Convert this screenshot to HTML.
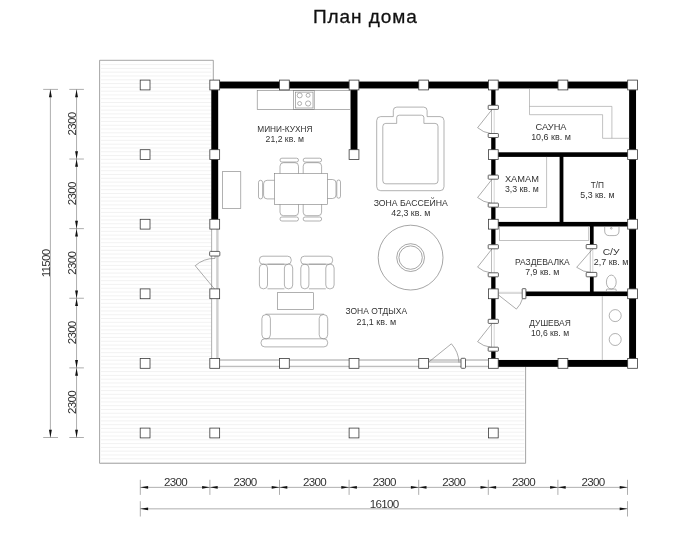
<!DOCTYPE html>
<html lang="ru"><head><meta charset="utf-8"><title>План дома</title>
<style>
html,body{margin:0;padding:0;background:#fff;}
body{width:699px;height:546px;overflow:hidden;position:relative;font-family:"Liberation Sans",sans-serif;}
h1{position:absolute;left:0;top:0;margin:0;width:699px;text-align:center;font-weight:400;font-size:19px;line-height:19px;letter-spacing:0.93px;color:#111;-webkit-text-stroke:0.3px #111;}
h1 span{position:absolute;left:313.4px;top:6.9px;white-space:nowrap;will-change:transform;}
svg{position:absolute;left:0;top:0;will-change:transform;}
svg text{font-family:"Liberation Sans",sans-serif;}
.w{fill:#000;}
.post{fill:#fff;stroke:#3a3a3a;stroke-width:0.8;}
.jamb{fill:#fff;stroke:#3a3a3a;stroke-width:0.8;}
.f{fill:none;stroke:#7d7d7d;stroke-width:0.6;}
.fl{fill:none;stroke:#999;stroke-width:0.6;}
.f2{fill:none;stroke:#6a6a6a;stroke-width:0.6;}
.d{fill:none;stroke:#666;stroke-width:0.55;}
.dl{stroke:#aaa;stroke-width:0.5;}
.dl2{stroke:#777;stroke-width:0.5;}
.gl{stroke:#777;stroke-width:0.6;}
.glb{fill:#cfcfcf;stroke:#b5b5b5;stroke-width:0.3;}
.terr{fill:none;stroke:#808080;stroke-width:0.7;}
.h{stroke:#f1f1f1;stroke-width:0.9;}
.dm{stroke:#777;stroke-width:0.6;}
.ar{fill:#111;}
.dt{font-size:11.6px;fill:#333;text-anchor:middle;letter-spacing:-0.7px;}
.lb{font-size:8.4px;fill:#333;text-anchor:middle;}
</style></head>
<body>
<h1><span>План дома</span></h1>
<svg width="699" height="546" viewBox="0 0 699 546">
<clipPath id="tc"><path d="M99.6,60.3 H213.3 V366.70 H525.6 V463.3 H99.6 Z"/></clipPath>
<g clip-path="url(#tc)" class="hatch">
<line x1="101.00" y1="64.60" x2="211.30" y2="64.60" class="h"/>
<line x1="101.00" y1="68.39" x2="211.30" y2="68.39" class="h"/>
<line x1="101.00" y1="72.18" x2="211.30" y2="72.18" class="h"/>
<line x1="101.00" y1="75.97" x2="211.30" y2="75.97" class="h"/>
<line x1="101.00" y1="79.76" x2="211.30" y2="79.76" class="h"/>
<line x1="101.00" y1="83.55" x2="211.30" y2="83.55" class="h"/>
<line x1="101.00" y1="87.34" x2="211.30" y2="87.34" class="h"/>
<line x1="101.00" y1="91.13" x2="211.30" y2="91.13" class="h"/>
<line x1="101.00" y1="94.92" x2="211.30" y2="94.92" class="h"/>
<line x1="101.00" y1="98.71" x2="211.30" y2="98.71" class="h"/>
<line x1="101.00" y1="102.50" x2="211.30" y2="102.50" class="h"/>
<line x1="101.00" y1="106.29" x2="211.30" y2="106.29" class="h"/>
<line x1="101.00" y1="110.08" x2="211.30" y2="110.08" class="h"/>
<line x1="101.00" y1="113.87" x2="211.30" y2="113.87" class="h"/>
<line x1="101.00" y1="117.66" x2="211.30" y2="117.66" class="h"/>
<line x1="101.00" y1="121.45" x2="211.30" y2="121.45" class="h"/>
<line x1="101.00" y1="125.24" x2="211.30" y2="125.24" class="h"/>
<line x1="101.00" y1="129.03" x2="211.30" y2="129.03" class="h"/>
<line x1="101.00" y1="132.82" x2="211.30" y2="132.82" class="h"/>
<line x1="101.00" y1="136.61" x2="211.30" y2="136.61" class="h"/>
<line x1="101.00" y1="140.40" x2="211.30" y2="140.40" class="h"/>
<line x1="101.00" y1="144.19" x2="211.30" y2="144.19" class="h"/>
<line x1="101.00" y1="147.98" x2="211.30" y2="147.98" class="h"/>
<line x1="101.00" y1="151.77" x2="211.30" y2="151.77" class="h"/>
<line x1="101.00" y1="155.56" x2="211.30" y2="155.56" class="h"/>
<line x1="101.00" y1="159.35" x2="211.30" y2="159.35" class="h"/>
<line x1="101.00" y1="163.14" x2="211.30" y2="163.14" class="h"/>
<line x1="101.00" y1="166.93" x2="211.30" y2="166.93" class="h"/>
<line x1="101.00" y1="170.72" x2="211.30" y2="170.72" class="h"/>
<line x1="101.00" y1="174.51" x2="211.30" y2="174.51" class="h"/>
<line x1="101.00" y1="178.30" x2="211.30" y2="178.30" class="h"/>
<line x1="101.00" y1="182.09" x2="211.30" y2="182.09" class="h"/>
<line x1="101.00" y1="185.88" x2="211.30" y2="185.88" class="h"/>
<line x1="101.00" y1="189.67" x2="211.30" y2="189.67" class="h"/>
<line x1="101.00" y1="193.46" x2="211.30" y2="193.46" class="h"/>
<line x1="101.00" y1="197.25" x2="211.30" y2="197.25" class="h"/>
<line x1="101.00" y1="201.04" x2="211.30" y2="201.04" class="h"/>
<line x1="101.00" y1="204.83" x2="211.30" y2="204.83" class="h"/>
<line x1="101.00" y1="208.62" x2="211.30" y2="208.62" class="h"/>
<line x1="101.00" y1="212.41" x2="211.30" y2="212.41" class="h"/>
<line x1="101.00" y1="216.20" x2="211.30" y2="216.20" class="h"/>
<line x1="101.00" y1="219.99" x2="211.30" y2="219.99" class="h"/>
<line x1="101.00" y1="223.78" x2="211.30" y2="223.78" class="h"/>
<line x1="101.00" y1="227.57" x2="211.30" y2="227.57" class="h"/>
<line x1="101.00" y1="231.36" x2="211.30" y2="231.36" class="h"/>
<line x1="101.00" y1="235.15" x2="211.30" y2="235.15" class="h"/>
<line x1="101.00" y1="238.94" x2="211.30" y2="238.94" class="h"/>
<line x1="101.00" y1="242.73" x2="211.30" y2="242.73" class="h"/>
<line x1="101.00" y1="246.52" x2="211.30" y2="246.52" class="h"/>
<line x1="101.00" y1="250.31" x2="211.30" y2="250.31" class="h"/>
<line x1="101.00" y1="254.10" x2="211.30" y2="254.10" class="h"/>
<line x1="101.00" y1="257.89" x2="211.30" y2="257.89" class="h"/>
<line x1="101.00" y1="261.68" x2="211.30" y2="261.68" class="h"/>
<line x1="101.00" y1="265.47" x2="211.30" y2="265.47" class="h"/>
<line x1="101.00" y1="269.26" x2="211.30" y2="269.26" class="h"/>
<line x1="101.00" y1="273.05" x2="211.30" y2="273.05" class="h"/>
<line x1="101.00" y1="276.84" x2="211.30" y2="276.84" class="h"/>
<line x1="101.00" y1="280.63" x2="211.30" y2="280.63" class="h"/>
<line x1="101.00" y1="284.42" x2="211.30" y2="284.42" class="h"/>
<line x1="101.00" y1="288.21" x2="211.30" y2="288.21" class="h"/>
<line x1="101.00" y1="292.00" x2="211.30" y2="292.00" class="h"/>
<line x1="101.00" y1="295.79" x2="211.30" y2="295.79" class="h"/>
<line x1="101.00" y1="299.58" x2="211.30" y2="299.58" class="h"/>
<line x1="101.00" y1="303.37" x2="211.30" y2="303.37" class="h"/>
<line x1="101.00" y1="307.16" x2="211.30" y2="307.16" class="h"/>
<line x1="101.00" y1="310.95" x2="211.30" y2="310.95" class="h"/>
<line x1="101.00" y1="314.74" x2="211.30" y2="314.74" class="h"/>
<line x1="101.00" y1="318.53" x2="211.30" y2="318.53" class="h"/>
<line x1="101.00" y1="322.32" x2="211.30" y2="322.32" class="h"/>
<line x1="101.00" y1="326.11" x2="211.30" y2="326.11" class="h"/>
<line x1="101.00" y1="329.90" x2="211.30" y2="329.90" class="h"/>
<line x1="101.00" y1="333.69" x2="211.30" y2="333.69" class="h"/>
<line x1="101.00" y1="337.48" x2="211.30" y2="337.48" class="h"/>
<line x1="101.00" y1="341.27" x2="211.30" y2="341.27" class="h"/>
<line x1="101.00" y1="345.06" x2="211.30" y2="345.06" class="h"/>
<line x1="101.00" y1="348.85" x2="211.30" y2="348.85" class="h"/>
<line x1="101.00" y1="352.64" x2="211.30" y2="352.64" class="h"/>
<line x1="101.00" y1="356.43" x2="211.30" y2="356.43" class="h"/>
<line x1="101.00" y1="360.22" x2="211.30" y2="360.22" class="h"/>
<line x1="101.00" y1="364.01" x2="211.30" y2="364.01" class="h"/>
<line x1="101.00" y1="367.80" x2="524.40" y2="367.80" class="h"/>
<line x1="101.00" y1="371.59" x2="524.40" y2="371.59" class="h"/>
<line x1="101.00" y1="375.38" x2="524.40" y2="375.38" class="h"/>
<line x1="101.00" y1="379.17" x2="524.40" y2="379.17" class="h"/>
<line x1="101.00" y1="382.96" x2="524.40" y2="382.96" class="h"/>
<line x1="101.00" y1="386.75" x2="524.40" y2="386.75" class="h"/>
<line x1="101.00" y1="390.54" x2="524.40" y2="390.54" class="h"/>
<line x1="101.00" y1="394.33" x2="524.40" y2="394.33" class="h"/>
<line x1="101.00" y1="398.12" x2="524.40" y2="398.12" class="h"/>
<line x1="101.00" y1="401.91" x2="524.40" y2="401.91" class="h"/>
<line x1="101.00" y1="405.70" x2="524.40" y2="405.70" class="h"/>
<line x1="101.00" y1="409.49" x2="524.40" y2="409.49" class="h"/>
<line x1="101.00" y1="413.28" x2="524.40" y2="413.28" class="h"/>
<line x1="101.00" y1="417.07" x2="524.40" y2="417.07" class="h"/>
<line x1="101.00" y1="420.86" x2="524.40" y2="420.86" class="h"/>
<line x1="101.00" y1="424.65" x2="524.40" y2="424.65" class="h"/>
<line x1="101.00" y1="428.44" x2="524.40" y2="428.44" class="h"/>
<line x1="101.00" y1="432.23" x2="524.40" y2="432.23" class="h"/>
<line x1="101.00" y1="436.02" x2="524.40" y2="436.02" class="h"/>
<line x1="101.00" y1="439.81" x2="524.40" y2="439.81" class="h"/>
<line x1="101.00" y1="443.60" x2="524.40" y2="443.60" class="h"/>
<line x1="101.00" y1="447.39" x2="524.40" y2="447.39" class="h"/>
<line x1="101.00" y1="451.18" x2="524.40" y2="451.18" class="h"/>
<line x1="101.00" y1="454.97" x2="524.40" y2="454.97" class="h"/>
<line x1="101.00" y1="458.76" x2="524.40" y2="458.76" class="h"/>
<line x1="101.00" y1="462.55" x2="524.40" y2="462.55" class="h"/>
</g>
<path d="M213.3,80 V60.3 H99.6 V463.3 H525.6 V366.70" class="terr"/>
<line x1="211.64" y1="224.20" x2="211.64" y2="363.40" class="gl"/>
<rect x="216.44" y="224.20" width="1.80" height="139.20" class="glb"/>
<rect x="214.74" y="359.30" width="278.56" height="1.50" class="glb"/>
<line x1="214.74" y1="366.30" x2="493.30" y2="366.30" class="gl"/>
<rect x="214.74" y="81.55" width="417.84" height="6.90" class="w"/>
<rect x="211.29" y="85.00" width="6.90" height="139.20" class="w"/>
<rect x="629.13" y="85.00" width="6.90" height="278.40" class="w"/>
<rect x="493.30" y="359.95" width="139.28" height="6.90" class="w"/>
<rect x="350.57" y="85.00" width="6.90" height="69.60" class="w"/>
<rect x="493.30" y="152.30" width="139.28" height="4.60" class="w"/>
<rect x="493.30" y="221.90" width="139.28" height="4.60" class="w"/>
<rect x="525.70" y="291.50" width="106.88" height="4.60" class="w"/>
<rect x="559.60" y="154.60" width="3.80" height="69.60" class="w"/>
<rect x="589.95" y="224.20" width="3.70" height="20.40" class="w"/>
<rect x="589.95" y="276.70" width="3.70" height="17.10" class="w"/>
<rect x="491.20" y="85.00" width="4.30" height="20.30" class="w"/>
<rect x="491.20" y="137.50" width="4.30" height="37.60" class="w"/>
<rect x="491.20" y="207.10" width="4.30" height="37.60" class="w"/>
<rect x="491.20" y="276.80" width="4.30" height="42.50" class="w"/>
<rect x="491.20" y="351.20" width="4.30" height="12.20" class="w"/>
<rect x="257.20" y="90.60" width="93.20" height="18.80" class="f"/>
<rect x="293.60" y="90.60" width="20.60" height="18.80" class="f"/>
<rect x="295.40" y="92.10" width="17.60" height="15.90" class="f"/>
<circle cx="299.7" cy="95.4" r="2.5" class="f"/>
<circle cx="308.1" cy="95.3" r="2.0" class="f"/>
<circle cx="299.6" cy="103.5" r="2.0" class="f"/>
<circle cx="308.1" cy="103.5" r="2.6" class="f"/>
<rect x="222.50" y="171.70" width="18.30" height="36.80" class="f"/>
<path d="M280.0,173.5 V166.2 Q280.0,162.7 283.5,162.7 H295.0 Q298.5,162.7 298.5,166.2 V173.5" class="f"/>
<rect x="280.00" y="158.20" width="18.50" height="3.80" rx="1.9" class="f"/>
<path d="M280.0,204.4 V212.2 Q280.0,215.7 283.5,215.7 H295.0 Q298.5,215.7 298.5,212.2 V204.4" class="f"/>
<rect x="280.00" y="217.00" width="18.50" height="4.00" rx="1.9" class="f"/>
<path d="M303.2,173.5 V166.2 Q303.2,162.7 306.7,162.7 H318.1 Q321.6,162.7 321.6,166.2 V173.5" class="f"/>
<rect x="303.20" y="158.20" width="18.40" height="3.80" rx="1.9" class="f"/>
<path d="M303.2,204.4 V212.2 Q303.2,215.7 306.7,215.7 H318.1 Q321.6,215.7 321.6,212.2 V204.4" class="f"/>
<rect x="303.20" y="217.00" width="18.40" height="4.00" rx="1.9" class="f"/>
<path d="M274.4,180.3 H267.1 Q263.6,180.3 263.6,183.8 V195.4 Q263.6,198.9 267.1,198.9 H274.4" class="f"/>
<rect x="258.50" y="180.30" width="4.10" height="18.60" rx="2" class="f"/>
<path d="M327.6,179.5 H332.5 Q336,179.5 336,183 V195 Q336,198.5 332.5,198.5 H327.6" class="f"/>
<rect x="336.80" y="180.00" width="3.70" height="18.20" rx="1.9" class="f"/>
<rect x="274.40" y="173.50" width="53.20" height="30.90" class="f"/>
<rect x="259.40" y="256.20" width="31.80" height="8.00" rx="3.5" class="f"/>
<line x1="267.50" y1="264.20" x2="284.40" y2="264.20" class="f"/>
<line x1="267.50" y1="288.80" x2="284.40" y2="288.80" class="f"/>
<rect x="259.40" y="264.20" width="8.10" height="24.60" rx="3.8" class="f"/>
<rect x="284.40" y="264.20" width="8.30" height="24.60" rx="3.8" class="f"/>
<rect x="300.80" y="256.20" width="31.80" height="8.00" rx="3.5" class="f"/>
<line x1="308.90" y1="264.20" x2="325.80" y2="264.20" class="f"/>
<line x1="308.90" y1="288.80" x2="325.80" y2="288.80" class="f"/>
<rect x="300.80" y="264.20" width="8.10" height="24.60" rx="3.8" class="f"/>
<rect x="325.80" y="264.20" width="8.30" height="24.60" rx="3.8" class="f"/>
<rect x="277.30" y="292.70" width="36.40" height="16.70" class="f"/>
<line x1="265.50" y1="314.20" x2="324.10" y2="314.20" class="f"/>
<rect x="261.90" y="314.60" width="8.50" height="24.20" rx="4" class="f"/>
<rect x="319.20" y="314.60" width="8.50" height="24.20" rx="4" class="f"/>
<rect x="261.00" y="338.80" width="66.70" height="8.10" rx="3.8" class="f"/>
<path d="M380.7,116.6 H393.3 V110.6 Q393.3,107.1 396.8,107.1 H423.6 Q427.1,107.1 427.1,110.6 V116.6 H440 Q444,116.6 444,120.6 V186.7 Q444,190.7 440,190.7 H380.7 Q376.7,190.7 376.7,186.7 V120.6 Q376.7,116.6 380.7,116.6 Z" class="f"/>
<path d="M385.8,123.4 H396.7 V117.7 Q396.7,115.2 399.2,115.2 H421.4 Q423.9,115.2 423.9,117.7 V123.4 H435 Q438,123.4 438,126.4 V180.8 Q438,183.8 435,183.8 H385.8 Q382.8,183.8 382.8,180.8 V126.4 Q382.8,123.4 385.8,123.4 Z" class="f"/>
<circle cx="410.6" cy="257.6" r="32.4" class="f2"/>
<circle cx="410.6" cy="257.6" r="13.9" class="f2"/>
<circle cx="410.6" cy="257.6" r="11.7" class="f2"/>
<path d="M529.5,89 V114.7 H602.6 V138.3 H629.3 M529.5,106.4 H611.9 V138.3" class="fl"/>
<path d="M546.6,156.90 V207.5 H495.60" class="fl"/>
<rect x="499.60" y="226.50" width="89.20" height="13.90" class="fl"/>
<line x1="602.30" y1="296.10" x2="602.30" y2="360.10" class="fl"/>
<circle cx="615.2" cy="315.6" r="6.0" class="f"/><circle cx="615.2" cy="339.5" r="6.0" class="f"/>
<path d="M604.7,226.4 V231 Q604.7,235.6 609.5,235.6 H614.2 Q619,235.6 619,231 V226.4" class="f"/>
<circle cx="611.3" cy="228.3" r="0.8" class="f"/>
<ellipse cx="611.3" cy="282.1" rx="4.9" ry="7.0" class="f"/>
<rect x="606.40" y="289.10" width="9.80" height="2.50" rx="0.8" class="f"/>
<line x1="491.50" y1="109.40" x2="491.50" y2="133.50" class="dl2"/>
<line x1="494.20" y1="109.40" x2="494.20" y2="133.50" class="dl"/>
<path d="M492.10,109.40 L477.60,127.70 A24.3,24.3 0 0 0 490.70,133.50" class="d"/>
<rect x="488.20" y="105.30" width="10.20" height="4.10" rx="0.6" class="jamb"/>
<rect x="488.20" y="133.50" width="10.20" height="4.00" rx="0.6" class="jamb"/>
<line x1="491.50" y1="179.20" x2="491.50" y2="203.10" class="dl2"/>
<line x1="494.20" y1="179.20" x2="494.20" y2="203.10" class="dl"/>
<path d="M492.10,179.20 L477.60,197.50 A24.3,24.3 0 0 0 490.70,203.10" class="d"/>
<rect x="488.20" y="175.10" width="10.20" height="4.10" rx="0.6" class="jamb"/>
<rect x="488.20" y="203.10" width="10.20" height="4.00" rx="0.6" class="jamb"/>
<line x1="491.50" y1="248.80" x2="491.50" y2="272.80" class="dl2"/>
<line x1="494.20" y1="248.80" x2="494.20" y2="272.80" class="dl"/>
<path d="M492.10,248.80 L477.60,267.10 A24.3,24.3 0 0 0 490.70,272.80" class="d"/>
<rect x="488.20" y="244.70" width="10.20" height="4.10" rx="0.6" class="jamb"/>
<rect x="488.20" y="272.80" width="10.20" height="4.00" rx="0.6" class="jamb"/>
<line x1="491.50" y1="323.40" x2="491.50" y2="347.20" class="dl2"/>
<line x1="494.20" y1="323.40" x2="494.20" y2="347.20" class="dl"/>
<path d="M492.10,323.40 L477.60,341.70 A24.3,24.3 0 0 0 490.70,347.20" class="d"/>
<rect x="488.20" y="319.30" width="10.20" height="4.10" rx="0.6" class="jamb"/>
<rect x="488.20" y="347.20" width="10.20" height="4.00" rx="0.6" class="jamb"/>
<line x1="590.30" y1="248.70" x2="590.30" y2="272.40" class="dl2"/>
<line x1="592.80" y1="248.70" x2="592.80" y2="272.40" class="dl"/>
<path d="M592.90,248.7 L576.70,267.3 A24.3,24.3 0 0 0 591.40,272.4" class="d"/>
<rect x="586.20" y="244.50" width="10.60" height="4.20" rx="0.6" class="jamb"/>
<rect x="586.20" y="272.40" width="10.60" height="4.40" rx="0.6" class="jamb"/>
<line x1="498.20" y1="292.30" x2="522.20" y2="292.30" class="dl"/>
<line x1="498.20" y1="293.40" x2="522.20" y2="293.40" class="dl"/>
<path d="M498.20,294.80 L516.4,309.1 A24.5,24.5 0 0 0 522.7,298.10" class="d"/>
<rect x="522.20" y="288.70" width="3.70" height="10.00" rx="0.4" class="jamb"/>
<path d="M214.44,288.90 L195.2,265.7 A29.8,29.8 0 0 1 215.04,258.4 V256" class="d"/>
<rect x="209.64" y="251.40" width="10.20" height="4.60" rx="0.8" class="jamb"/>
<line x1="428.56" y1="361.50" x2="461.00" y2="361.50" class="dl"/>
<line x1="428.56" y1="362.50" x2="461.00" y2="362.50" class="dl"/>
<path d="M428.56,362.20 L451.4,343.8 A30,30 0 0 1 459.0,362.70" class="d"/>
<rect x="461.00" y="358.30" width="4.50" height="10.00" rx="0.8" class="jamb"/>
<rect x="140.20" y="80.10" width="9.80" height="9.80" class="post"/>
<rect x="140.20" y="149.70" width="9.80" height="9.80" class="post"/>
<rect x="140.20" y="219.30" width="9.80" height="9.80" class="post"/>
<rect x="140.20" y="288.90" width="9.80" height="9.80" class="post"/>
<rect x="140.20" y="358.50" width="9.80" height="9.80" class="post"/>
<rect x="140.20" y="428.10" width="9.80" height="9.80" class="post"/>
<rect x="209.84" y="80.10" width="9.80" height="9.80" class="post"/>
<rect x="279.48" y="80.10" width="9.80" height="9.80" class="post"/>
<rect x="349.12" y="80.10" width="9.80" height="9.80" class="post"/>
<rect x="418.76" y="80.10" width="9.80" height="9.80" class="post"/>
<rect x="488.40" y="80.10" width="9.80" height="9.80" class="post"/>
<rect x="558.04" y="80.10" width="9.80" height="9.80" class="post"/>
<rect x="627.68" y="80.10" width="9.80" height="9.80" class="post"/>
<rect x="209.84" y="149.70" width="9.80" height="9.80" class="post"/>
<rect x="488.40" y="149.70" width="9.80" height="9.80" class="post"/>
<rect x="627.68" y="149.70" width="9.80" height="9.80" class="post"/>
<rect x="209.84" y="219.30" width="9.80" height="9.80" class="post"/>
<rect x="488.40" y="219.30" width="9.80" height="9.80" class="post"/>
<rect x="627.68" y="219.30" width="9.80" height="9.80" class="post"/>
<rect x="209.84" y="288.90" width="9.80" height="9.80" class="post"/>
<rect x="488.40" y="288.90" width="9.80" height="9.80" class="post"/>
<rect x="627.68" y="288.90" width="9.80" height="9.80" class="post"/>
<rect x="209.84" y="358.50" width="9.80" height="9.80" class="post"/>
<rect x="488.40" y="358.50" width="9.80" height="9.80" class="post"/>
<rect x="627.68" y="358.50" width="9.80" height="9.80" class="post"/>
<rect x="349.12" y="149.70" width="9.80" height="9.80" class="post"/>
<rect x="279.48" y="358.50" width="9.80" height="9.80" class="post"/>
<rect x="349.12" y="358.50" width="9.80" height="9.80" class="post"/>
<rect x="418.76" y="358.50" width="9.80" height="9.80" class="post"/>
<rect x="558.04" y="358.50" width="9.80" height="9.80" class="post"/>
<rect x="209.84" y="428.10" width="9.80" height="9.80" class="post"/>
<rect x="349.12" y="428.10" width="9.80" height="9.80" class="post"/>
<rect x="488.40" y="428.10" width="9.80" height="9.80" class="post"/>
<line x1="140.30" y1="487.35" x2="627.50" y2="487.35" class="dm"/>
<line x1="140.30" y1="479.80" x2="140.30" y2="494.90" class="dm"/>
<path d="M140.30,487.35 l7.8,-1.45 v2.9 Z" class="ar"/>
<line x1="209.90" y1="479.80" x2="209.90" y2="494.90" class="dm"/>
<path d="M209.90,487.35 l-7.8,-1.45 v2.9 Z" class="ar"/>
<path d="M209.90,487.35 l7.8,-1.45 v2.9 Z" class="ar"/>
<line x1="279.50" y1="479.80" x2="279.50" y2="494.90" class="dm"/>
<path d="M279.50,487.35 l-7.8,-1.45 v2.9 Z" class="ar"/>
<path d="M279.50,487.35 l7.8,-1.45 v2.9 Z" class="ar"/>
<line x1="349.10" y1="479.80" x2="349.10" y2="494.90" class="dm"/>
<path d="M349.10,487.35 l-7.8,-1.45 v2.9 Z" class="ar"/>
<path d="M349.10,487.35 l7.8,-1.45 v2.9 Z" class="ar"/>
<line x1="418.70" y1="479.80" x2="418.70" y2="494.90" class="dm"/>
<path d="M418.70,487.35 l-7.8,-1.45 v2.9 Z" class="ar"/>
<path d="M418.70,487.35 l7.8,-1.45 v2.9 Z" class="ar"/>
<line x1="488.30" y1="479.80" x2="488.30" y2="494.90" class="dm"/>
<path d="M488.30,487.35 l-7.8,-1.45 v2.9 Z" class="ar"/>
<path d="M488.30,487.35 l7.8,-1.45 v2.9 Z" class="ar"/>
<line x1="557.90" y1="479.80" x2="557.90" y2="494.90" class="dm"/>
<path d="M557.90,487.35 l-7.8,-1.45 v2.9 Z" class="ar"/>
<path d="M557.90,487.35 l7.8,-1.45 v2.9 Z" class="ar"/>
<line x1="627.50" y1="479.80" x2="627.50" y2="494.90" class="dm"/>
<path d="M627.50,487.35 l-7.8,-1.45 v2.9 Z" class="ar"/>
<text x="175.40" y="486.3" class="dt">2300</text>
<text x="245.00" y="486.3" class="dt">2300</text>
<text x="314.60" y="486.3" class="dt">2300</text>
<text x="384.20" y="486.3" class="dt">2300</text>
<text x="453.80" y="486.3" class="dt">2300</text>
<text x="523.40" y="486.3" class="dt">2300</text>
<text x="593.00" y="486.3" class="dt">2300</text>
<line x1="140.30" y1="508.85" x2="627.50" y2="508.85" class="dm"/>
<line x1="140.30" y1="501.20" x2="140.30" y2="516.50" class="dm"/>
<line x1="627.50" y1="501.20" x2="627.50" y2="516.50" class="dm"/>
<path d="M140.30,508.85 l7.8,-1.45 v2.9 Z" class="ar"/>
<path d="M627.50,508.85 l-7.8,-1.45 v2.9 Z" class="ar"/>
<text x="384.1" y="507.7" class="dt">16100</text>
<line x1="76.55" y1="89.40" x2="76.55" y2="437.50" class="dm"/>
<line x1="69.30" y1="89.40" x2="83.90" y2="89.40" class="dm"/>
<path d="M76.55,89.40 l-1.45,7.8 h2.9 Z" class="ar"/>
<line x1="69.30" y1="159.02" x2="83.90" y2="159.02" class="dm"/>
<path d="M76.55,159.02 l-1.45,-7.8 h2.9 Z" class="ar"/>
<path d="M76.55,159.02 l-1.45,7.8 h2.9 Z" class="ar"/>
<line x1="69.30" y1="228.64" x2="83.90" y2="228.64" class="dm"/>
<path d="M76.55,228.64 l-1.45,-7.8 h2.9 Z" class="ar"/>
<path d="M76.55,228.64 l-1.45,7.8 h2.9 Z" class="ar"/>
<line x1="69.30" y1="298.26" x2="83.90" y2="298.26" class="dm"/>
<path d="M76.55,298.26 l-1.45,-7.8 h2.9 Z" class="ar"/>
<path d="M76.55,298.26 l-1.45,7.8 h2.9 Z" class="ar"/>
<line x1="69.30" y1="367.88" x2="83.90" y2="367.88" class="dm"/>
<path d="M76.55,367.88 l-1.45,-7.8 h2.9 Z" class="ar"/>
<path d="M76.55,367.88 l-1.45,7.8 h2.9 Z" class="ar"/>
<line x1="69.30" y1="437.50" x2="83.90" y2="437.50" class="dm"/>
<path d="M76.55,437.50 l-1.45,-7.8 h2.9 Z" class="ar"/>
<text transform="translate(75.8,124.01) rotate(-90)" class="dt">2300</text>
<text transform="translate(75.8,193.63) rotate(-90)" class="dt">2300</text>
<text transform="translate(75.8,263.25) rotate(-90)" class="dt">2300</text>
<text transform="translate(75.8,332.87) rotate(-90)" class="dt">2300</text>
<text transform="translate(75.8,402.49) rotate(-90)" class="dt">2300</text>
<line x1="50.40" y1="89.40" x2="50.40" y2="437.50" class="dm"/>
<line x1="43.20" y1="89.40" x2="58.00" y2="89.40" class="dm"/>
<line x1="43.20" y1="437.50" x2="58.00" y2="437.50" class="dm"/>
<path d="M50.40,89.40 l-1.45,7.8 h2.9 Z" class="ar"/>
<path d="M50.40,437.50 l-1.45,-7.8 h2.9 Z" class="ar"/>
<text transform="translate(49.7,263.4) rotate(-90)" class="dt">11500</text>
<text x="284.8" y="131.5" class="lb" textLength="55.1" lengthAdjust="spacingAndGlyphs">МИНИ-КУХНЯ</text>
<text x="284.8" y="141.6" class="lb" textLength="38.4" lengthAdjust="spacingAndGlyphs">21,2 кв. м</text>
<text x="410.8" y="205.7" class="lb" textLength="74.3" lengthAdjust="spacingAndGlyphs">ЗОНА БАССЕЙНА</text>
<text x="410.8" y="215.8" class="lb" textLength="39.1" lengthAdjust="spacingAndGlyphs">42,3 кв. м</text>
<text x="376.3" y="314.3" class="lb" textLength="61.7" lengthAdjust="spacingAndGlyphs">ЗОНА ОТДЫХА</text>
<text x="376.3" y="324.6" class="lb" textLength="39.8" lengthAdjust="spacingAndGlyphs">21,1 кв. м</text>
<text x="551.0" y="130.3" class="lb" textLength="31.0" lengthAdjust="spacingAndGlyphs">САУНА</text>
<text x="551.0" y="140.3" class="lb" textLength="39.7" lengthAdjust="spacingAndGlyphs">10,6 кв. м</text>
<text x="521.9" y="182.0" class="lb" textLength="34.0" lengthAdjust="spacingAndGlyphs">ХАМАМ</text>
<text x="521.9" y="192.0" class="lb" textLength="33.9" lengthAdjust="spacingAndGlyphs">3,3 кв. м</text>
<text x="597.4" y="187.8" class="lb" textLength="13.3" lengthAdjust="spacingAndGlyphs">Т/П</text>
<text x="597.4" y="197.6" class="lb" textLength="34.2" lengthAdjust="spacingAndGlyphs">5,3 кв. м</text>
<text x="542.3" y="265.0" class="lb" textLength="54.8" lengthAdjust="spacingAndGlyphs">РАЗДЕВАЛКА</text>
<text x="542.3" y="275.0" class="lb" textLength="34.2" lengthAdjust="spacingAndGlyphs">7,9 кв. м</text>
<text x="611.1" y="255.2" class="lb" textLength="16.9" lengthAdjust="spacingAndGlyphs">С/У</text>
<text x="611.1" y="265.3" class="lb" textLength="34.6" lengthAdjust="spacingAndGlyphs">2,7 кв. м</text>
<text x="550.0" y="326.0" class="lb" textLength="41.4" lengthAdjust="spacingAndGlyphs">ДУШЕВАЯ</text>
<text x="550.0" y="335.6" class="lb" textLength="38.1" lengthAdjust="spacingAndGlyphs">10,6 кв. м</text>
</svg>
</body></html>
